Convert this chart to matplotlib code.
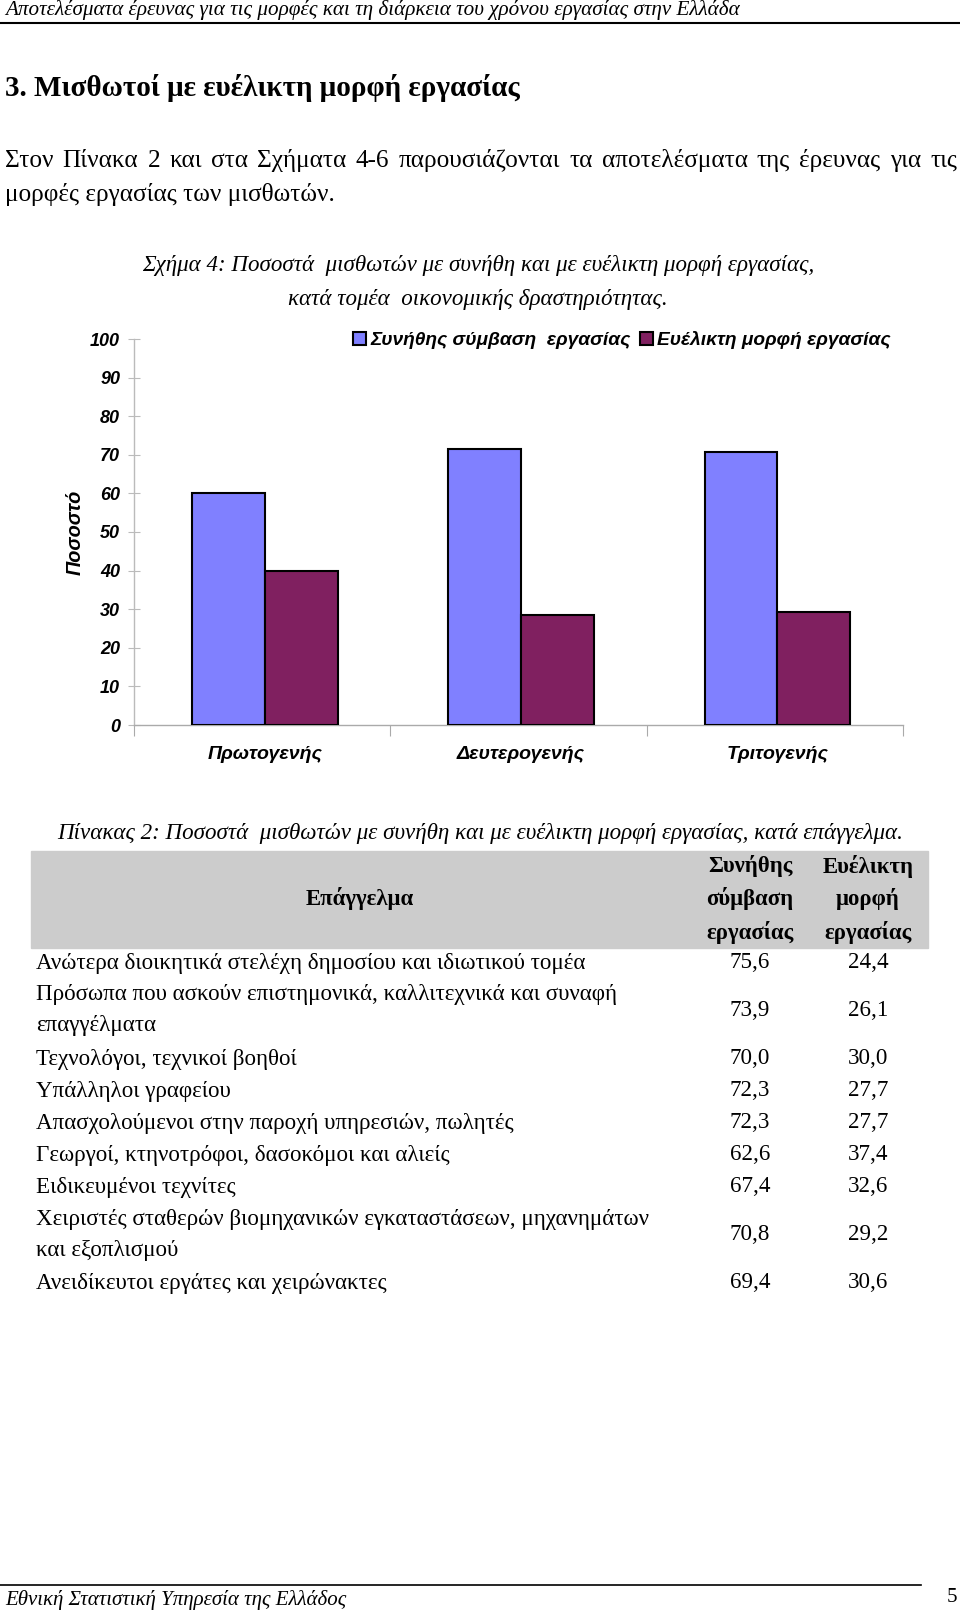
import numpy as np
import matplotlib.pyplot as plt
from matplotlib.patches import Rectangle
from matplotlib.lines import Line2D

# chart data (Σχήμα 4)
sectors = ['Πρωτογενής', 'Δευτερογενής', 'Τριτογενής']
regular = [60.0, 71.6, 70.8]
flexible = [40.0, 28.4, 29.2]
series_names = ['Συνήθης σύμβαση  εργασίας', 'Ευέλικτη μορφή εργασίας']
yticks = [0, 10, 20, 30, 40, 50, 60, 70, 80, 90, 100]

# table data (Πίνακας 2)
occupations = [
    'Ανώτερα διοικητικά στελέχη δημοσίου και ιδιωτικού τομέα',
    'Πρόσωπα που ασκούν επιστημονικά, καλλιτεχνικά και συναφή\nεπαγγέλματα',
    'Τεχνολόγοι, τεχνικοί βοηθοί',
    'Υπάλληλοι γραφείου',
    'Απασχολούμενοι στην παροχή υπηρεσιών, πωλητές',
    'Γεωργοί, κτηνοτρόφοι, δασοκόμοι και αλιείς',
    'Ειδικευμένοι τεχνίτες',
    'Χειριστές σταθερών βιομηχανικών εγκαταστάσεων, μηχανημάτων\nκαι εξοπλισμού',
    'Ανειδίκευτοι εργάτες και χειρώνακτες',
]
occ_regular = ['75,6', '73,9', '70,0', '72,3', '72,3', '62,6', '67,4', '70,8', '69,4']
occ_flexible = ['24,4', '26,1', '30,0', '27,7', '27,7', '37,4', '32,6', '29,2', '30,6']
row_y = [963, 1010, 1059, 1091, 1123, 1155, 1187, 1235, 1283]

W, H = 960, 1613
fig = plt.figure(figsize=(W / 100, H / 100), dpi=100)
renderer = fig.canvas.get_renderer()

def fx(x):
    return x / W

def fy(y):
    return 1 - y / H

serif = ['Liberation Serif', 'DejaVu Serif']
sans = ['Liberation Sans', 'DejaVu Sans']

# page header / footer
fig.text(fx(5), fy(10), 'Αποτελέσματα έρευνας για τις μορφές και τη διάρκεια του χρόνου εργασίας στην Ελλάδα',
         family=serif, style='italic', fontsize=15.2, va='center', ha='left')
fig.add_artist(Line2D([0, 1], [fy(23), fy(23)], color='black', lw=1.5))
fig.add_artist(Line2D([0, fx(921)], [fy(1585), fy(1585)], color='black', lw=1.2))
fig.text(fx(5), fy(1600), 'Εθνική Στατιστική Υπηρεσία της Ελλάδος',
         family=serif, style='italic', fontsize=15, va='center', ha='left')
fig.text(fx(957), fy(1597), '5', family=serif, fontsize=15, va='center', ha='right')

# heading
fig.text(fx(5), fy(88), '3. Μισθωτοί με ευέλικτη μορφή εργασίας',
         family=serif, weight='bold', fontsize=21, va='center', ha='left')

# paragraph, first line justified to the text width
line1 = 'Στον Πίνακα 2 και στα Σχήματα 4-6 παρουσιάζονται τα αποτελέσματα της έρευνας για τις'.split()
words = [fig.text(0, fy(161), w, family=serif, fontsize=18.2, va='center', ha='left') for w in line1]
widths = [t.get_window_extent(renderer).width for t in words]
gap = (957 - 5 - sum(widths)) / (len(words) - 1)
xpos = 5
for t, w in zip(words, widths):
    t.set_x(fx(xpos))
    xpos += w + gap
fig.text(fx(5), fy(195), 'μορφές εργασίας των μισθωτών.',
         family=serif, fontsize=18.2, va='center', ha='left')

# figure caption
fig.text(fx(478), fy(265), 'Σχήμα 4: Ποσοστά  μισθωτών με συνήθη και με ευέλικτη μορφή εργασίας,',
         family=serif, style='italic', fontsize=16.6, va='center', ha='center')
fig.text(fx(478), fy(299), 'κατά τομέα  οικονομικής δραστηριότητας.',
         family=serif, style='italic', fontsize=16.6, va='center', ha='center')

# bar chart
ax = fig.add_axes([fx(134), fy(725), fx(903) - fx(134), fy(339) - fy(725)])
x = np.arange(len(sectors)) + 0.5
bw = 0.284
ax.bar(x - bw / 2 + 0.01, regular, bw, color='#8080FF', edgecolor='black', linewidth=1.5,
       label=series_names[0], zorder=3)
ax.bar(x + bw / 2 + 0.01, flexible, bw, color='#802060', edgecolor='black', linewidth=1.5,
       label=series_names[1], zorder=3)
ax.set_xlim(0, len(sectors))
ax.set_ylim(0, 100)
for s in ['top', 'right']:
    ax.spines[s].set_visible(False)
ax.spines['left'].set_color('#BBBBBB')
ax.spines['bottom'].set_color('#AAAAAA')
ax.spines['left'].set_linewidth(1)
ax.spines['bottom'].set_linewidth(1)

tick_font = dict(family=sans, weight='bold', style='italic', size=13)
ax.set_yticks(yticks)
ax.set_yticklabels([str(t) for t in yticks], fontdict=tick_font)
ax.tick_params(axis='y', direction='inout', length=8, color='#BBBBBB', pad=6)
ax.set_xticks(np.arange(len(sectors) + 1))
ax.set_xticklabels([])
ax.tick_params(axis='x', which='major', direction='out', length=8, color='#AAAAAA')
ax.set_xticks(x + 0.01, minor=True)
ax.set_xticklabels(sectors, minor=True, fontdict=dict(tick_font, size=14))
ax.tick_params(axis='x', which='minor', length=0, pad=15)
ax.set_ylabel('Ποσοστό', family=sans, weight='bold', style='italic', fontsize=14.3, labelpad=4)

leg = ax.legend(loc='center left', bbox_to_anchor=(fx(353), fy(340)), bbox_transform=fig.transFigure,
                ncol=2, frameon=False, handlelength=0.7, handleheight=0.7, handletextpad=0.2,
                columnspacing=0.5, borderpad=0, borderaxespad=0,
                prop=dict(family=sans, weight='bold', style='italic', size=13.8))

# table caption
fig.text(fx(480), fy(834), 'Πίνακας 2: Ποσοστά  μισθωτών με συνήθη και με ευέλικτη μορφή εργασίας, κατά επάγγελμα.',
         family=serif, style='italic', fontsize=16.6, va='center', ha='center')

# table header
fig.add_artist(Rectangle((fx(31), fy(948)), fx(928) - fx(31), fy(851) - fy(948),
                         transform=fig.transFigure, color='#CCCCCC', zorder=0))
fig.text(fx(360), fy(899), 'Επάγγελμα', family=serif, weight='bold', fontsize=16.4,
         va='center', ha='center')
for cx, words in [(750, ['Συνήθης', 'σύμβαση', 'εργασίας']), (868, ['Ευέλικτη', 'μορφή', 'εργασίας'])]:
    for yy, w in zip([866, 899, 932], words):
        fig.text(fx(cx), fy(yy), w, family=serif, weight='bold', fontsize=16.4, va='center', ha='center')

# table rows
for yy, occ, r, f in zip(row_y, occupations, occ_regular, occ_flexible):
    fig.text(fx(36), fy(yy), occ, family=serif, fontsize=16.6, va='center', ha='left',
             linespacing=1.6)
    fig.text(fx(750), fy(yy), r, family=serif, fontsize=16.6, va='center', ha='center')
    fig.text(fx(868), fy(yy), f, family=serif, fontsize=16.6, va='center', ha='center')

fig.savefig('out.png', dpi=100)
